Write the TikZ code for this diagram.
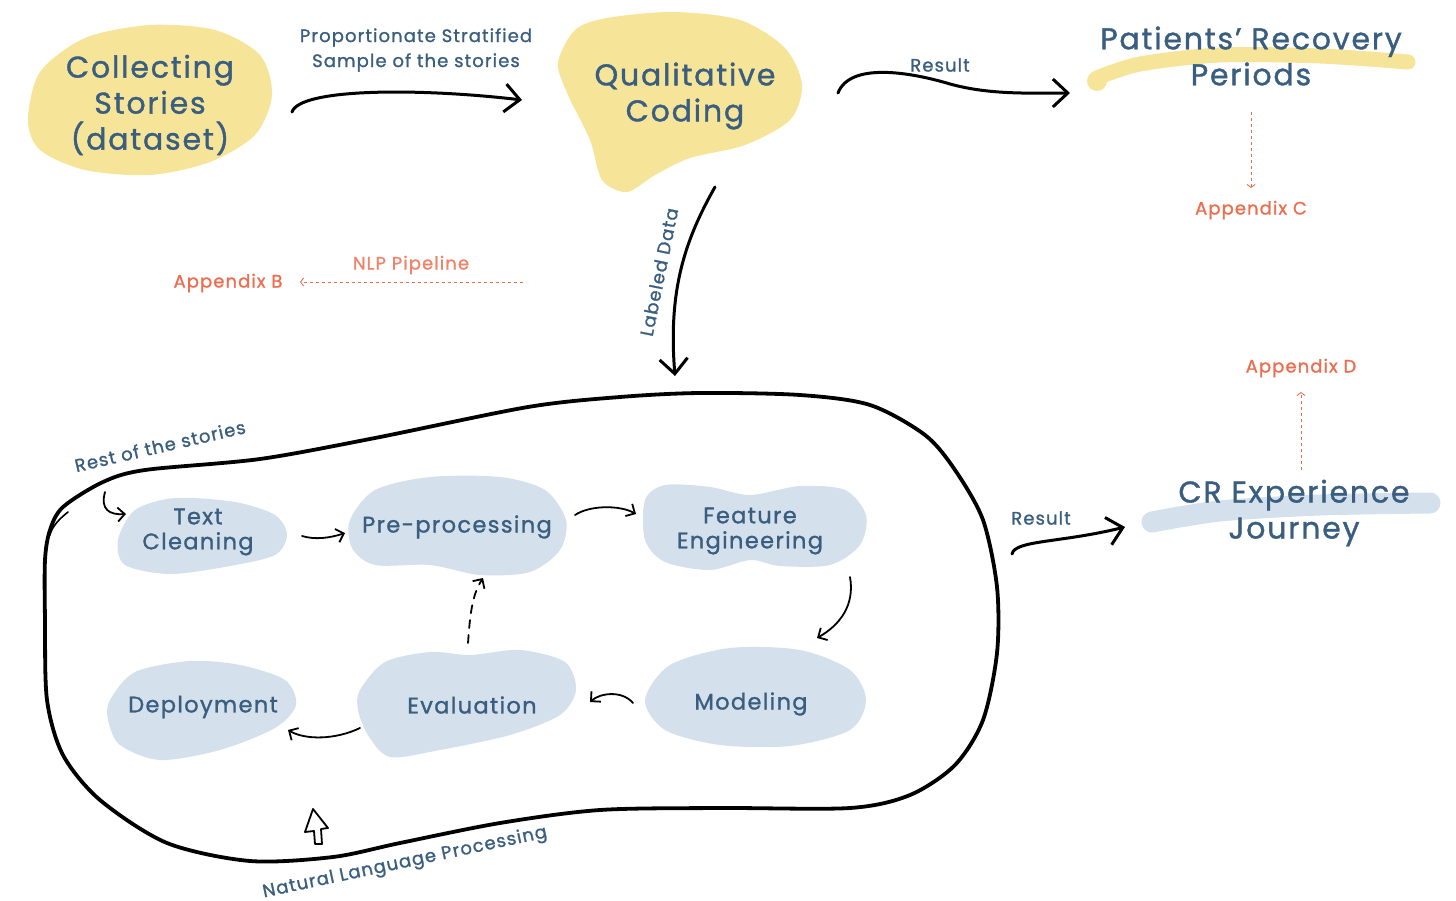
\documentclass[tikz,border=0pt]{standalone}
\usepackage{fontspec}
\setmainfont{Poppins}[LetterSpace=6,FakeBold=1.2]
\usetikzlibrary{arrows.meta}
\definecolor{ink}{RGB}{58,94,128}
\definecolor{coral}{RGB}{235,110,80}
\definecolor{sand}{RGB}{246,228,152}
\definecolor{mist}{RGB}{212,224,235}
\begin{document}
\begin{tikzpicture}[x=1pt,y=-1pt,
  title/.style={text=ink, font=\fontsize{30}{36}\selectfont, align=center, inner sep=0pt},
  stagetext/.style={text=ink, font=\fontsize{22.5}{25}\selectfont, align=center, inner sep=0pt},
  lbl/.style={text=ink, font=\fontsize{18}{25}\selectfont, align=center, inner sep=0pt},
  appx/.style={text=coral, font=\fontsize{18}{22}\selectfont, inner sep=0pt},
  yblob/.style={fill=sand, draw=none},
  bblob/.style={fill=mist, draw=none},
  bigarrow/.style={line width=3pt, line cap=round, line join=round,
    -{Straight Barb[length=15pt,width=28pt,line width=3pt]}},
  smallarrow/.style={line width=1.8pt, line cap=round, line join=round,
    -{Straight Barb[length=7pt,width=14pt,line width=1.8pt]}},
  hint/.style={coral, line width=0.9pt, dash pattern=on 3.5pt off 2.5pt,
    -{Straight Barb[length=3pt,width=8pt,line width=0.9pt]}}]
\useasboundingbox (0,0) rectangle (1456,901);

% ---------- blobs and brush strokes ----------
\fill[yblob] plot[smooth cycle] coordinates {(28,120) (40,72) (85,38) (150,25) (215,30) (260,55) (272,95) (255,135) (210,162) (150,175) (85,170) (40,150)};
\fill[yblob] plot[smooth cycle] coordinates {(558,63) (575,30) (607,18) (673,12) (740,20) (785,48) (802,85) (790,120) (745,145) (690,158) (655,175) (627,192) (602,180) (590,140) (568,95)};
\draw[sand, line width=15pt, line cap=round] plot[smooth] coordinates {(1097,78) (1140,64) (1220,55) (1320,56) (1408,62)};
\fill[sand] (1097,81) circle (10);
\draw[mist, line width=21pt, line cap=round] plot[smooth] coordinates {(1152,522) (1220,511) (1320,505) (1430,503)};

\fill[bblob] plot[smooth cycle] coordinates {(118,540) (135,510) (175,498) (235,502) (275,515) (287,535) (275,555) (230,566) (170,574) (125,565)};
\fill[bblob] plot[smooth cycle] coordinates {(350,520) (375,490) (430,477) (500,477) (545,490) (566,520) (560,550) (530,572) (480,575) (430,565) (375,565) (352,548)};
\fill[bblob] plot[smooth cycle] coordinates {(645,500) (665,485) (710,487) (750,495) (800,486) (845,490) (866,515) (860,545) (830,565) (780,566) (750,560) (710,570) (665,562) (645,540)};
\fill[bblob] plot[smooth cycle] coordinates {(645,700) (670,665) (730,648) (800,650) (850,670) (866,700) (850,730) (790,746) (720,745) (665,730)};
\fill[bblob] plot[smooth cycle] coordinates {(360,690) (385,662) (430,652) (470,655) (520,650) (565,662) (576,690) (560,715) (510,735) (440,750) (390,757) (368,735) (358,710)};
\fill[bblob] plot[smooth cycle] coordinates {(110,700) (135,672) (190,661) (240,665) (285,680) (296,705) (275,728) (220,750) (160,760) (120,745) (108,720)};

% ---------- NLP loop ----------
\draw[line width=3.8pt, line join=round] plot[smooth cycle] coordinates {(45,560) (50,530) (63,507) (103,482) (145,470) (260,459) (375,438) (528,407) (620,397) (700,393) (800,395) (870,405) (925,435) (955,470) (983,520) (997,587) (997,653) (983,720) (955,765) (910,795) (850,808) (720,808) (600,810) (500,823) (400,843) (333,857) (250,861) (167,843) (100,800) (63,755) (47,700) (45,620)};
\draw[line width=1.6pt, line cap=round] (68,512) .. controls (58,520) and (52,527) .. (50,535);

% ---------- texts ----------
\node[title] (cs) at (150,105) {Collecting\\Stories\\(dataset)};
\node[lbl] (pss) at (416,50) {Proportionate Stratified\\Sample of the stories};
\node[title] (qc) at (685,96) {Qualitative\\Coding};
\node[lbl] (res1) at (940,65) {Result};
\node[title] (prp) at (1251,56) {Patients' Recovery\\Periods};
\node[appx] (appC) at (1251,210) {Appendix C};
\node[appx] (appB) at (228,283) {Appendix B};
\node[appx, text=coral!85] (nlpp) at (411,265) {NLP Pipeline};
\node[lbl, rotate=78.5] (ldl) at (659,272) {Labeled Data};
\node[appx] (appD) at (1301,368) {Appendix D};
\node[title] (crj) at (1294,513) {CR Experience\\Journey};
\node[lbl] (res2) at (1041,518) {Result};
\node[lbl, rotate=13] (rest) at (160,446) {Rest of the stories};
\node[lbl, rotate=12] (nlpl) at (405,863) {Natural Language Processing};

\node[stagetext] (tc) at (198,532) {Text\\Cleaning};
\node[stagetext] (pp) at (457,527) {Pre-processing};
\node[stagetext] (fe) at (750,531) {Feature\\Engineering};
\node[stagetext] (mo) at (751,704) {Modeling};
\node[stagetext] (ev) at (472,705) {Evaluation};
\node[stagetext] (dep) at (203,707) {Deployment};

\coordinate (looptop) at (675,376);
\coordinate (loopright) at (1012,554);
\coordinate (restin) at (105,492);

% ---------- connectors ----------
\draw[bigarrow] ([shift={(142,7)}]cs.center) .. controls (300,88) and (420,88) .. ([shift={(-163,4)}]qc.center);
\draw[bigarrow] ([shift={(153,-3)}]qc.center) .. controls (850,62) and (910,72) .. (950,84) .. controls (990,95) and (1030,93) .. ([shift={(-181,37)}]prp.center);
\draw[bigarrow] ([shift={(30,91)}]qc.center) .. controls (685,240) and (668,290) .. (looptop);
\draw[bigarrow] (loopright) .. controls (1015,540) and (1060,543) .. ([shift={(-169,14)}]crj.center);

\draw[hint] ([shift={(0,56)}]prp.center) -- ([shift={(0,-22)}]appC.center);
\draw[hint] ([shift={(112,17)}]nlpp.center) -- ([shift={(72,-1)}]appB.center);
\draw[hint] ([shift={(7,-43)}]crj.center) -- ([shift={(0,24)}]appD.center);

\draw[smallarrow] (restin) .. controls (100,510) and (110,515) .. ([shift={(-72,-18)}]tc.center);
\draw[smallarrow] ([shift={(104,4)}]tc.center) .. controls (315,540) and (330,538) .. ([shift={(-112,6)}]pp.center);
\draw[smallarrow] ([shift={(118,-12)}]pp.center) .. controls (590,505) and (620,505) .. ([shift={(-114,-17)}]fe.center);
\draw[smallarrow] ([shift={(100,46)}]fe.center) .. controls (855,605) and (840,625) .. ([shift={(66,-66)}]mo.center);
\draw[smallarrow] ([shift={(-118,-1)}]mo.center) .. controls (622,690) and (600,693) .. ([shift={(118,-3)}]ev.center);
\draw[smallarrow, dash pattern=on 8pt off 7pt] ([shift={(-4,-62)}]ev.center) .. controls (470,615) and (472,595) .. ([shift={(26,51)}]pp.center);
\draw[smallarrow] ([shift={(-112,23)}]ev.center) .. controls (335,740) and (305,740) .. ([shift={(85,23)}]dep.center);

% hollow pointer under the pipeline
\draw[line width=1.8pt, line join=round, fill=white] (313,809) -- (328,828) -- (321,829) -- (322,844) -- (315,844) -- (314,831) -- (305,832) -- cycle;
\end{tikzpicture}
\end{document}
